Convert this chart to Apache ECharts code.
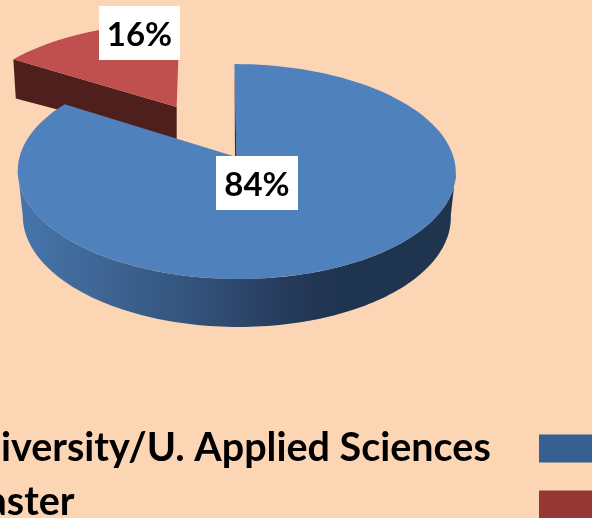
<!DOCTYPE html>
<html><head><meta charset="utf-8">
<style>html,body{margin:0;padding:0;background:#fcd5b5;overflow:hidden}#c{width:592px;height:518px}</style>
<script src="https://cdn.jsdelivr.net/npm/echarts@6/dist/echarts.min.js"></script>
</head><body><div id="c"></div>
<script>
const categories = ['University/U. Applied Sciences', 'Master'];
const shares = [84, 16];
const shareLabels = ['84%', '16%'];

const chart = echarts.init(document.getElementById('c'));
const total = shares[0] + shares[1];
const K = 0.135, AY = 105.5, BX = 217, CX = 236.5, CY = 157;

function proj(u, v, skew, shift) {
  const w = 1 + K * v;
  return [CX + BX * u / w + (skew || 0) * v + (shift || 0), CY - AY * v / w];
}
function arcPts(a0, a1, r, du, dv, skew, depth, shift) {
  const pts = [], n = 120;
  for (let i = 0; i <= n; i++) {
    const t = a0 + (a1 - a0) * i / n;
    const u = r * Math.sin(t) + du, v = r * Math.cos(t) + dv;
    const p = proj(u, v, skew, shift);
    if (depth) { const d = depth(u, v); p[0] -= d[0]; p[1] += d[1]; }
    pts.push(p);
  }
  return pts;
}
const sliceBlueEnd = shares[0] / total * Math.PI * 2;
const TAU = Math.PI * 2;

function blueItem() {
  const depth = (u, v) => [u * 5, 44 - 4 * v];
  const skew = -2;
  const top = arcPts(0, sliceBlueEnd, 1, 0, 0, skew);
  const apex = proj(0, 0, skew);
  const a0 = Math.PI / 2 + 0.13, a1 = Math.min(sliceBlueEnd, 3 * Math.PI / 2 - 0.13);
  const wallTop = arcPts(a0, a1, 1, 0, 0, skew);
  const wallBottom = arcPts(a0, a1, 1, 0, 0, skew, depth).reverse();
  const outerTop = proj(0, 1, skew);
  return { type: 'group', children: [
    { type: 'polygon', shape: { points: wallTop.concat(wallBottom) },
      style: { fill: new echarts.graphic.LinearGradient(18, 0, 456, 0, [
        { offset: 0, color: '#4676ad' }, { offset: 0.19, color: '#3f6594' },
        { offset: 0.37, color: '#34567f' }, { offset: 0.62, color: '#263a5a' },
        { offset: 0.74, color: '#1f344e' }, { offset: 1, color: '#1f344e' }], true) } },
    { type: 'polygon', shape: { points: top.concat([apex]) }, style: { fill: '#4f81bd' } },
    { type: 'polygon', shape: { points: [outerTop, apex, [apex[0] - 1.5, apex[1]]] }, style: { fill: '#1f344e' } },
    labelEl(shareLabels[0], 216, 156, 82, 54)
  ] };
}
function redItem() {
  const mid = (sliceBlueEnd + TAU) / 2;
  const EX = 0.578, du = EX * Math.sin(mid), dv = EX * Math.cos(mid);
  const skew = -3.5, shift = -1.5;
  const top = arcPts(sliceBlueEnd, TAU, 1.03, du, dv, skew, null, shift);
  const cu = 1.03 * Math.sin(sliceBlueEnd) + du, cv = 1.03 * Math.cos(sliceBlueEnd) + dv;
  const apex = proj(du, dv, skew, shift), corner = proj(cu, cv, skew, shift);
  const thick = v => 29.3 + 9.3 * v;
  const dA = [apex[0], apex[1] + thick(dv)];
  const dC = [corner[0] + 2.5, corner[1] + thick(cv)];
  return { type: 'group', children: [
    { type: 'polygon', shape: { points: [corner, apex, dA, dC] }, style: { fill: '#4f1f1e' } },
    { type: 'polygon', shape: { points: top.concat([apex]) }, style: { fill: '#c0504d' } },
    labelEl(shareLabels[1], 99, 6, 81, 54)
  ] };
}
function labelEl(text, x, y, w, h) {
  return { type: 'group', z2: 100, children: [
    { type: 'rect', shape: { x, y, width: w, height: h }, style: { fill: '#ffffff' }, z2: 100 },
    { type: 'text', z2: 101, style: { text, x: x + w / 2, y: y + h / 2 + 2, align: 'center', verticalAlign: 'middle',
      font: 'bold 33px Lato', fill: '#000000' } }
  ] };
}

const legendText = { fontFamily: 'Lato', fontWeight: 'bold', fontSize: 39.5, color: '#000', width: 584, align: 'left', height: 34, lineHeight: 34 };
function legendFor(name, top, bottomPad) {
  return {
    orient: 'vertical', left: -55, top, height: 100, align: 'right', itemWidth: 80, itemHeight: 28,
    icon: 'rect', selectedMode: false,
    formatter: n => '{a|' + n + '}',
    textStyle: { rich: { a: Object.assign({ padding: [0, 0, bottomPad, 0] }, legendText) } },
    data: [name]
  };
}
chart.setOption({
  backgroundColor: '#fcd5b5',
  animation: false,
  legend: [legendFor(categories[0], 423, 1), legendFor(categories[1], 477, 5)],
  series: [
    { type: 'custom', name: categories[1], coordinateSystem: 'none', z: 1, silent: true,
      itemStyle: { color: '#953735' }, data: [shares[1]], renderItem: () => redItem() },
    { type: 'custom', name: categories[0], coordinateSystem: 'none', z: 2, silent: true,
      itemStyle: { color: '#376092' }, data: [shares[0]], renderItem: () => blueItem() }
  ]
});
</script></body></html>
